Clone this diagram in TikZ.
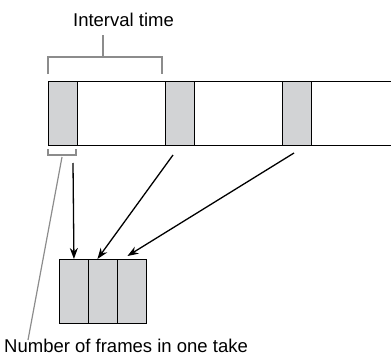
\documentclass[tikz,border=0pt]{standalone}
\usepackage{fontspec}
\setmainfont{Liberation Sans}
\usetikzlibrary{arrows.meta}
\definecolor{framegray}{RGB}{210,211,213}
\definecolor{bracegray}{RGB}{140,140,140}

\begin{document}
\begin{tikzpicture}[x=1pt, y=-1pt, >={Stealth[length=11pt,width=8pt]},
    frame/.style={draw, fill=framegray, line width=0.9pt, minimum width=29pt,
        minimum height=64pt, inner sep=0pt, anchor=north west},
    brace/.style={draw=bracegray, line width=1.4pt},
    link/.style={->, line width=1.3pt},
    label/.style={inner sep=0pt, font=\fontsize{18.5}{22}\selectfont}]
    \useasboundingbox (0,0) rectangle (391,356);

    % the strip of recorded time
    \draw[line width=0.9pt] (391,81) -- (48,81) -- (48,145) -- (391,145);
    \node[frame] (f1) at (48,81) {};
    \node[frame] (f2) at (165,81) {};
    \node[frame] (f3) at (282,81) {};

    % interval bracket
    \node[label, anchor=base] (interval) at (123.5,26) {Interval time};
    \draw[brace] (48,74) -- (48,57) -- (162,57) -- (162,74);
    \draw[brace] (103,57) -- (103,35);

    % frames in one take
    \draw[brace] (48,149) -- (48,155) -- (76,155) -- (76,149);
    \node[label, anchor=base west] (take) at (4,352.5) {Number of frames in one take};
    \coordinate (tk) at (62,157);
    \draw[bracegray, line width=1.2pt] (tk) -- (28,340);

    % the collected frames
    \node[frame] (c1) at (59,259) {};
    \node[frame] (c2) at (88,259) {};
    \node[frame] (c3) at (117,259) {};

    \coordinate (s1) at (73,163);
    \coordinate (s2) at (173,155);
    \coordinate (s3) at (294,153);
    \draw[link] (s1) -- (c1.north);
    \draw[link] (s2) -- ([xshift=-5.5pt]c2.north);
    \draw[link] (s3) -- ([xshift=-4.5pt, yshift=3pt]c3.north);
\end{tikzpicture}
\end{document}
